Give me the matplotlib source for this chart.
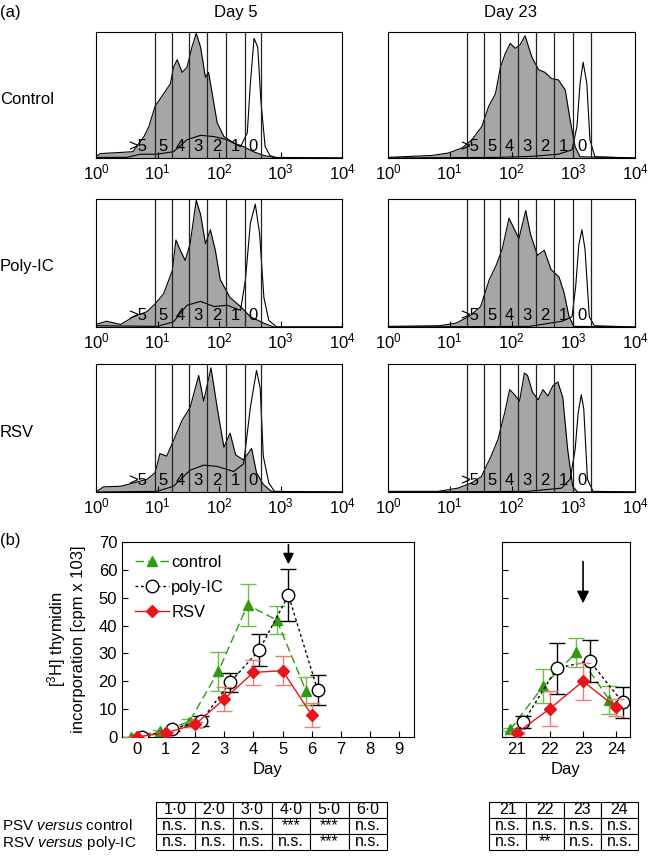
import matplotlib
matplotlib.use('Agg')
import numpy as np
import matplotlib.pyplot as plt
from matplotlib.lines import Line2D

plt.rcParams['font.family'] = ['Liberation Sans', 'DejaVu Sans']
plt.rcParams['font.size'] = 12
plt.rcParams['mathtext.fontset'] = 'custom'
plt.rcParams['mathtext.rm'] = 'Liberation Sans'
plt.rcParams['mathtext.it'] = 'Liberation Sans:italic'

#------------------------------------------------------------------------------
# (a) CFSE histograms: log10 fluorescence position, height (fraction of max)
#------------------------------------------------------------------------------
d5_ctrl_fill_lx = [0.0, 0.07, 0.6, 0.78, 0.86, 0.96, 1.1, 1.21, 1.26, 1.32, 1.40, 1.48, 1.56,
                   1.63, 1.70, 1.78, 1.83, 1.89, 1.97, 2.08, 2.24, 2.40, 2.56, 2.73, 2.89, 4.0]
d5_ctrl_fill_h = [0.01, 0.035, 0.05, 0.17, 0.25, 0.41, 0.51, 0.59, 0.72, 0.78, 0.68, 0.72, 0.88,
                  0.99, 0.88, 0.64, 0.68, 0.51, 0.28, 0.17, 0.12, 0.09, 0.05, 0.02, 0.005, 0.0]
d5_ctrl_line_lx = [0.0, 0.5, 0.72, 0.99, 1.26, 1.48, 1.70, 1.92, 2.13, 2.35, 2.46, 2.51, 2.57,
                   2.63, 2.68, 2.75, 2.83, 2.94, 4.0]
d5_ctrl_line_h = [0.005, 0.005, 0.03, 0.03, 0.05, 0.145, 0.18, 0.17, 0.145, 0.09, 0.2, 0.59, 0.95,
                  0.88, 0.46, 0.09, 0.02, 0.0, 0.0]

d5_poly_fill_lx = [0.0, 0.17, 0.40, 0.61, 0.83, 0.96, 1.10, 1.24, 1.30, 1.37, 1.45, 1.53, 1.63,
                   1.70, 1.78, 1.86, 1.94, 2.02, 2.18, 2.35, 2.51, 2.73, 2.89, 4.0]
d5_poly_fill_h = [0.02, 0.045, 0.02, 0.08, 0.12, 0.18, 0.26, 0.44, 0.68, 0.60, 0.52, 0.65, 0.99,
                  0.88, 0.65, 0.76, 0.60, 0.37, 0.23, 0.16, 0.08, 0.03, 0.0, 0.0]
d5_poly_line_lx = [0.0, 0.99, 1.26, 1.48, 1.70, 1.92, 2.13, 2.35, 2.43, 2.51, 2.59, 2.66, 2.73,
                   2.81, 2.94, 4.0]
d5_poly_line_h = [0.01, 0.005, 0.04, 0.17, 0.20, 0.16, 0.17, 0.13, 0.37, 0.81, 0.96, 0.73, 0.23,
                  0.05, 0.0, 0.0]

d5_rsv_fill_lx = [0.0, 0.12, 0.40, 0.61, 0.83, 0.96, 1.04, 1.15, 1.24, 1.40, 1.53, 1.67, 1.75,
                  1.87, 1.97, 2.08, 2.18, 2.27, 2.40, 2.53, 2.61, 2.72, 2.85, 4.0]
d5_rsv_fill_h = [0.0, 0.04, 0.045, 0.07, 0.10, 0.15, 0.30, 0.28, 0.38, 0.56, 0.66, 0.91, 0.71,
                 0.97, 0.66, 0.35, 0.46, 0.29, 0.25, 0.34, 0.15, 0.06, 0.005, 0.0]
d5_rsv_line_lx = [0.0, 0.99, 1.26, 1.53, 1.75, 1.97, 2.24, 2.40, 2.51, 2.61, 2.67, 2.72, 2.81,
                  2.91, 4.0]
d5_rsv_line_h = [0.0, 0.005, 0.045, 0.17, 0.21, 0.20, 0.16, 0.22, 0.66, 0.95, 0.81, 0.28, 0.07,
                 0.0, 0.0]

d23_ctrl_fill_lx = [0.0, 0.71, 0.98, 1.20, 1.36, 1.52, 1.63, 1.74, 1.82, 1.90, 1.98, 2.06, 2.14,
                    2.22, 2.33, 2.44, 2.54, 2.65, 2.76, 2.87, 2.95, 3.03, 3.11, 4.0]
d23_ctrl_fill_h = [0.005, 0.02, 0.04, 0.08, 0.145, 0.25, 0.41, 0.51, 0.72, 0.83, 0.91, 0.87, 0.90,
                   0.97, 0.80, 0.70, 0.68, 0.63, 0.62, 0.54, 0.30, 0.09, 0.01, 0.0]
d23_ctrl_line_lx = [0.0, 1.79, 2.33, 2.76, 2.98, 3.06, 3.11, 3.16, 3.22, 3.27, 3.35, 4.0]
d23_ctrl_line_h = [0.0, 0.005, 0.013, 0.03, 0.065, 0.25, 0.59, 0.76, 0.59, 0.145, 0.01, 0.0]

d23_poly_fill_lx = [0.0, 0.83, 1.10, 1.32, 1.50, 1.64, 1.75, 1.85, 1.96, 2.04, 2.12, 2.23, 2.31,
                    2.42, 2.53, 2.64, 2.77, 2.85, 2.93, 3.01, 4.0]
d23_poly_fill_h = [0.005, 0.01, 0.03, 0.084, 0.16, 0.37, 0.48, 0.61, 0.85, 0.77, 0.69, 0.91, 0.72,
                   0.56, 0.60, 0.45, 0.39, 0.27, 0.084, 0.005, 0.0]
d23_poly_line_lx = [0.0, 2.29, 2.82, 2.98, 3.04, 3.09, 3.14, 3.19, 3.26, 3.34, 4.0]
d23_poly_line_h = [0.0, 0.005, 0.045, 0.08, 0.32, 0.64, 0.76, 0.61, 0.08, 0.01, 0.0]

d23_rsv_fill_lx = [0.0, 0.81, 1.13, 1.35, 1.51, 1.67, 1.78, 1.89, 1.97, 2.05, 2.13, 2.21, 2.26,
                   2.34, 2.43, 2.51, 2.59, 2.67, 2.75, 2.83, 2.91, 2.99, 3.07, 4.0]
d23_rsv_fill_h = [0.005, 0.005, 0.03, 0.07, 0.12, 0.28, 0.41, 0.62, 0.80, 0.76, 0.71, 0.93, 0.91,
                  0.78, 0.72, 0.80, 0.75, 0.83, 0.86, 0.74, 0.33, 0.045, 0.0, 0.0]
d23_rsv_line_lx = [0.0, 2.26, 2.81, 2.95, 3.03, 3.08, 3.13, 3.17, 3.23, 3.32, 4.0]
d23_rsv_line_h = [0.0, 0.005, 0.03, 0.10, 0.33, 0.62, 0.76, 0.65, 0.10, 0.005, 0.0]

# division gates (fluorescence values) and their labels
d5_gates = [9.2, 17, 32, 65, 129, 263, 480]
d23_gates = [19, 35.5, 66, 126, 245, 490, 1000, 1905]
gate_labels = ['>5', '5', '4', '3', '2', '1', '0']

row_names = ['Control', 'Poly-IC', 'RSV']
col_names = ['Day 5', 'Day 23']

#------------------------------------------------------------------------------
# (b) thymidine incorporation, mean and error
#------------------------------------------------------------------------------
days_early = [0, 1, 2, 3, 4, 5, 6]
ctrl_early = [0.0, 2.0, 5.4, 23.6, 47.4, 42.0, 16.6]
ctrl_early_err = [0.0, 0.5, 1.0, 7.0, 7.7, 5.0, 5.0]
poly_early = [0.0, 2.8, 5.6, 19.6, 31.2, 50.9, 16.8]
poly_early_err = [0.0, 0.5, 1.8, 3.3, 5.6, 9.3, 5.3]
rsv_early = [0.0, 1.5, 4.5, 13.6, 23.2, 23.8, 7.8]
rsv_early_err = [0.0, 0.3, 0.8, 4.4, 4.4, 5.3, 4.3]

days_late = [21, 22, 23, 24]
ctrl_late = [2.7, 18.3, 30.4, 13.3]
ctrl_late_err = [0.5, 6.0, 5.2, 4.9]
poly_late = [5.4, 24.6, 27.3, 12.4]
poly_late_err = [2.2, 9.3, 7.5, 5.4]
rsv_late = [1.5, 10.2, 20.0, 10.6]
rsv_late_err = [0.3, 6.2, 6.6, 3.0]

# significance tables
tab_early_days = ['1·0', '2·0', '3·0', '4·0', '5·0', '6·0']
tab_early_psv = ['n.s.', 'n.s.', 'n.s.', '***', '***', 'n.s.']
tab_early_rsv = ['n.s.', 'n.s.', 'n.s.', 'n.s.', '***', 'n.s.']
tab_late_days = ['21', '22', '23', '24']
tab_late_psv = ['n.s.', 'n.s.', 'n.s.', 'n.s.']
tab_late_rsv = ['n.s.', '**', 'n.s.', 'n.s.']

#------------------------------------------------------------------------------
W, H = 648, 858
fig = plt.figure(figsize=(W / 100, H / 100), dpi=100)


def px_axes(x0, y0, x1, y1):
    return fig.add_axes([x0 / W, 1 - y1 / H, (x1 - x0) / W, (y1 - y0) / H])


hist_data = [
    [(d5_ctrl_fill_lx, d5_ctrl_fill_h, d5_ctrl_line_lx, d5_ctrl_line_h),
     (d23_ctrl_fill_lx, d23_ctrl_fill_h, d23_ctrl_line_lx, d23_ctrl_line_h)],
    [(d5_poly_fill_lx, d5_poly_fill_h, d5_poly_line_lx, d5_poly_line_h),
     (d23_poly_fill_lx, d23_poly_fill_h, d23_poly_line_lx, d23_poly_line_h)],
    [(d5_rsv_fill_lx, d5_rsv_fill_h, d5_rsv_line_lx, d5_rsv_line_h),
     (d23_rsv_fill_lx, d23_rsv_fill_h, d23_rsv_line_lx, d23_rsv_line_h)],
]
row_y = [(32, 158), (199, 327), (364, 492)]
col_x = [(96, 342), (388, 635)]

for r in range(3):
    for c in range(2):
        fx, fh, lx, lh = hist_data[r][c]
        ax = px_axes(col_x[c][0], row_y[r][0], col_x[c][1], row_y[r][1])
        ax.fill_between(10 ** np.array(fx), fh, color='#a6a6a6', lw=0)
        ax.plot(10 ** np.array(fx), fh, color='black', lw=0.8)
        ax.plot(10 ** np.array(lx), lh, color='black', lw=0.8)
        gates = d5_gates if c == 0 else d23_gates
        for g in gates:
            ax.axvline(g, color='#222222', lw=0.9)
        lg = np.log10(gates)
        if c == 0:
            pos = [lg[0] - 0.29] + list((lg[:-1] + lg[1:]) / 2)
        else:
            pos = [lg[0] + 0.05] + list((lg[1:-1] + lg[2:]) / 2)
        for p, s in zip(pos, gate_labels):
            ax.text(10 ** p, 0.09, s, ha='center', va='center', fontsize=12)
        ax.set_xscale('log')
        ax.set_xlim(1, 1e4)
        ax.set_ylim(0, 1.0)
        ax.set_yticks([])
        ax.set_xticks([1, 10, 100, 1000, 10000])
        ax.set_xticklabels([r'$10^0$', r'$10^1$', r'$10^2$', r'$10^3$', r'$10^4$'])
        ax.tick_params(axis='x', which='major', direction='in', length=4, labelsize=12, pad=3)
        ax.tick_params(axis='x', which='minor', direction='in', length=2)
        for sp in ax.spines.values():
            sp.set_linewidth(0.8)
    fig.text(0.0, 1 - (sum(row_y[r]) / 2 + 4) / H, row_names[r], ha='left', va='center',
             fontsize=12)

fig.text(236 / W, 1 - 12 / H, col_names[0], ha='center', va='center', fontsize=12)
fig.text(510 / W, 1 - 12 / H, col_names[1], ha='center', va='center', fontsize=12)
fig.text(0.0, 1 - 12 / H, '(a)', ha='left', va='center', fontsize=12)
fig.text(0.0, 1 - 541 / H, '(b)', ha='left', va='center', fontsize=12)

#------------------------------------------------------------------------------
# (b) line plots
#------------------------------------------------------------------------------
green, green_e = '#2f9a12', '#6cbd4c'
red, red_e = '#e8141c', '#f07a7a'
ctrl_style = dict(color=green, ls=(0, (6, 3)), lw=1.0, marker='^', ms=7)
poly_style = dict(color='black', ls=(0, (2, 2)), lw=1.0, marker='o', ms=9, mfc='white',
                  mec='black')
rsv_style = dict(color=red, ls='-', lw=1.0, marker='D', ms=6)


def draw_series(ax, days, ctrl, ctrl_e, poly, poly_e, rsv, rsv_e):
    d = np.array(days, dtype=float)
    ax.errorbar(d - 0.2, ctrl, yerr=ctrl_e, ecolor=green_e, capsize=6, elinewidth=1.0,
                zorder=3, **ctrl_style)
    ax.errorbar(d + 0.2, poly, yerr=poly_e, ecolor='black', capsize=6, elinewidth=1.0,
                zorder=4, **poly_style)
    ax.errorbar(d, rsv, yerr=rsv_e, ecolor=red_e, capsize=6, elinewidth=1.0,
                zorder=5, **rsv_style)


axl = px_axes(122, 542, 414, 737)
draw_series(axl, days_early, ctrl_early, ctrl_early_err, poly_early, poly_early_err,
            rsv_early, rsv_early_err)
axl.set_xlim(-0.5, 9.5)
axl.set_ylim(0, 70)
axl.set_xticks(range(10))
axl.set_yticks(range(0, 71, 10))
axl.tick_params(direction='in', length=4, labelsize=12)
axl.set_xlabel('Day', fontsize=12, labelpad=4)
axl.set_ylabel('[$^3$H] thymidin\nincorporation [cpm x 103]', fontsize=12)
axl.yaxis.set_label_coords(-0.125, 0.5)
handles = [Line2D([], [], **ctrl_style), Line2D([], [], **poly_style),
           Line2D([], [], **rsv_style)]
axl.legend(handles, ['control', 'poly-IC', 'RSV'], loc='upper left', frameon=False,
           fontsize=12, handlelength=2.0, handletextpad=0.15, borderaxespad=0.5,
           labelspacing=0.6, borderpad=0.3)
axl.annotate('', xy=(5.2, 61.0), xytext=(5.2, 70),
             arrowprops=dict(arrowstyle='-|>', color='black', lw=1.2, mutation_scale=16))

axr = px_axes(502, 542, 630, 737)
draw_series(axr, days_late, ctrl_late, ctrl_late_err, poly_late, poly_late_err,
            rsv_late, rsv_late_err)
axr.set_xlim(20.55, 24.42)
axr.set_ylim(0, 70)
axr.set_xticks(days_late)
axr.set_yticks(range(0, 71, 10))
axr.set_yticklabels([])
axr.tick_params(direction='in', length=4, labelsize=12)
axr.set_xlabel('Day', fontsize=12, labelpad=4)
axr.annotate('', xy=(23, 47), xytext=(23, 64),
             arrowprops=dict(arrowstyle='-|>', color='black', lw=1.2, mutation_scale=18))

for a in (axl, axr):
    for sp in a.spines.values():
        sp.set_linewidth(0.8)

#------------------------------------------------------------------------------
# significance tables
#------------------------------------------------------------------------------
def draw_table(x0, x1, header, row1, row2):
    ax = px_axes(x0, 802, x1, 850)
    ax.axis('off')
    tb = ax.table(cellText=[header, row1, row2], cellLoc='center', bbox=[0, 0, 1, 1])
    tb.auto_set_font_size(False)
    tb.set_fontsize(11.5)
    for cell in tb.get_celld().values():
        cell.set_linewidth(0.8)
    return ax


draw_table(156, 387, tab_early_days, tab_early_psv, tab_early_rsv)
draw_table(489, 638, tab_late_days, tab_late_psv, tab_late_rsv)
fig.text(0.003, 1 - 826 / H, r'PSV $\it{versus}$ control', ha='left', va='center', fontsize=11)
fig.text(0.003, 1 - 843 / H, r'RSV $\it{versus}$ poly-IC', ha='left', va='center', fontsize=11)

fig.savefig('out.png', dpi=100)
